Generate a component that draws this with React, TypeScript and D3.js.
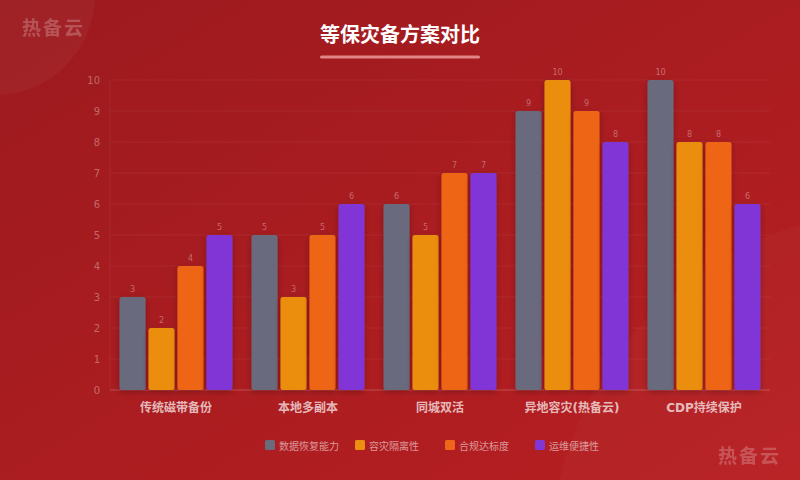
import React from "react";
import * as d3 from "d3";

const categories = ["传统磁带备份", "本地多副本", "同城双活", "异地容灾(热备云)", "CDP持续保护"];
const seriesNames = ["数据恢复能力", "容灾隔离性", "合规达标度", "运维便捷性"];
const recovery = [3, 5, 6, 9, 10];
const isolation = [2, 3, 5, 10, 8];
const compliance = [4, 5, 7, 9, 8];
const ops = [5, 6, 7, 8, 6];
const seriesColors = ["#6b6b7e", "#ec8e10", "#ef6519", "#8136d6"];
const yTicks = [0, 1, 2, 3, 4, 5, 6, 7, 8, 9, 10];

const seriesValues = [recovery, isolation, compliance, ops];

export default function App() {
  const W = 800, H = 480;
  const left = 110, right = 770, top = 80, bottom = 390;
  const x0 = d3.scaleBand<string>().domain(categories).range([left, right]).padding(0);
  const x1 = d3.scaleBand<number>().domain([0, 1, 2, 3]).range([9.5, x0.bandwidth() - 9.5]).paddingInner(0.1);
  const y = d3.scaleLinear().domain([0, 10]).range([bottom, top]);
  const font = "'DejaVu Sans', 'Noto Sans CJK SC', sans-serif";
  const legendX = [265, 355, 445, 535];

  return (
    <svg width={W} height={H} style={{ position: "absolute", left: 0, top: 0 }} fontFamily={font}>
      <defs>
        <linearGradient id="bg" x1="0" y1="0" x2="1" y2="1">
          <stop offset="0%" stopColor="#9c1a1e" />
          <stop offset="100%" stopColor="#b81f22" />
        </linearGradient>
        <filter id="sh" x="-30%" y="-10%" width="160%" height="130%">
          <feDropShadow dx="0" dy="2" stdDeviation="3" floodColor="#000" floodOpacity="0.25" />
        </filter>
      </defs>
      <rect width={W} height={H} fill="url(#bg)" />
      <circle cx={-5} cy={-5} r={100} fill="#fff" opacity={0.04} />
      <circle cx={900} cy={560} r={350} fill="#fff" opacity={0.025} />
      <text x={22} y={35} fontSize={19} fontWeight="bold" fill="#fff" opacity={0.22} letterSpacing={2}>热备云</text>
      <text x={718} y={463} fontSize={19} fontWeight="bold" fill="#fff" opacity={0.22} letterSpacing={2}>热备云</text>
      <text x={400} y={42} textAnchor="middle" fontSize={20} fontWeight="bold" fill="#fff">等保灾备方案对比</text>
      <rect x={320} y={55.5} width={160} height={3} rx={1.5} fill="#f0a0a0" opacity={0.8} />
      {yTicks.map((t) => (
        <g key={t}>
          <line x1={left} x2={right} y1={y(t)} y2={y(t)} stroke="#fff" strokeOpacity={t === 0 ? 0.15 : 0.06} strokeWidth={t === 0 ? 1.5 : 1} />
          <text x={100} y={y(t) + 4} textAnchor="end" fontSize={10} fill="#fff" fillOpacity={0.35}>{t}</text>
        </g>
      ))}
      <line x1={left} x2={left} y1={top} y2={bottom} stroke="#fff" strokeOpacity={0.06} />
      {categories.map((c, ci) => (
        <g key={c} transform={`translate(${x0(c)},0)`}>
          {seriesValues.map((vals, si) => {
            const v = vals[ci];
            const bx = x1(si)!;
            const bw = x1.bandwidth();
            return (
              <g key={si}>
                <rect x={bx} y={y(v)} width={bw} height={bottom - y(v)} rx={2.5} fill={seriesColors[si]} filter="url(#sh)" />
                <text x={bx + bw / 2} y={y(v) - 5} textAnchor="middle" fontSize={8} fill="#fff" fillOpacity={0.35}>{v}</text>
              </g>
            );
          })}
          <text x={x0.bandwidth() / 2} y={412} textAnchor="middle" fontSize={12} fontWeight="bold" fill="#fff" fillOpacity={0.7}>{c}</text>
        </g>
      ))}
      {seriesNames.map((n, i) => (
        <g key={n}>
          <rect x={legendX[i]} y={440} width={10} height={10} rx={1.5} fill={seriesColors[i]} />
          <text x={legendX[i] + 14} y={450} fontSize={10} fill="#fff" fillOpacity={0.55}>{n}</text>
        </g>
      ))}
    </svg>
  );
}
